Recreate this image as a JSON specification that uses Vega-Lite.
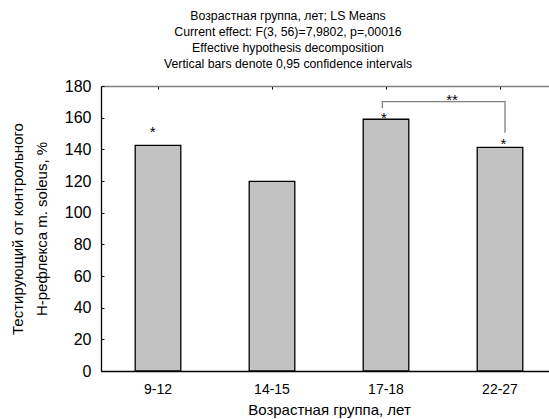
{
  "$schema": "https://vega.github.io/schema/vega-lite/v6.json",
  "width": 448,
  "height": 285,
  "autosize": {"type": "none"},
  "padding": {"left": 101, "top": 86, "right": 0, "bottom": 48},
  "background": "white",
  "config": {
    "font": "Liberation Sans",
    "view": {"stroke": null},
    "axis": {"grid": false, "labelFont": "Liberation Sans", "titleFont": "Liberation Sans", "labelColor": "black", "titleColor": "black", "titleFontWeight": "normal"}
  },
  "title": {
    "text": ["Возрастная группа, лет; LS Means", "Current effect: F(3, 56)=7,9802, p=,00016", "Effective hypothesis decomposition", "Vertical bars denote 0,95 confidence intervals"],
    "fontSize": 12.3,
    "fontWeight": "normal",
    "lineHeight": 16,
    "anchor": "middle",
    "frame": "group",
    "dx": -37,
    "offset": 8,
    "color": "black"
  },
  "resolve": {"scale": {"x": "independent"}},
  "layer": [
    {
      "data": {"values": [
        {"group": "9-12", "value": 142.5},
        {"group": "14-15", "value": 119.8},
        {"group": "17-18", "value": 159.0},
        {"group": "22-27", "value": 141.2}
      ]},
      "mark": {"type": "bar", "fill": "#c2c2c2", "stroke": "black", "strokeWidth": 1.3},
      "encoding": {
        "x": {"field": "group", "type": "nominal", "sort": null,
          "scale": {"range": [0, 456], "paddingInner": 0.6, "paddingOuter": 0.3},
          "axis": {"orient": "bottom", "title": "Возрастная группа, лет", "titleFontSize": 15, "titlePadding": 6, "labelFontSize": 14, "labelAngle": 0, "labelPadding": 14, "tickSize": -3, "tickColor": "black", "domainColor": "black", "domainWidth": 1.3}},
        "y": {"field": "value", "type": "quantitative",
          "scale": {"domain": [0, 180], "nice": false},
          "axis": {"values": [0, 20, 40, 60, 80, 100, 120, 140, 160, 180], "labelOverlap": false, "labelFlush": false, "title": ["Тестирующий от контрольного", "H-рефлекса m. soleus, %"], "titleFontSize": 15, "titleLineHeight": 24, "titlePadding": 15, "labelFontSize": 16, "labelPadding": 13, "tickSize": -3, "tickColor": "black", "domainColor": "black", "domainWidth": 1.3}}
      }
    },
    {
      "data": {"values": [
        {"pos": 0.454, "y": 147.7, "label": "*"},
        {"pos": 2.482, "y": 156.8, "label": "*"},
        {"pos": 3.529, "y": 140.0, "label": "*"},
        {"pos": 3.079, "y": 167.7, "label": "**"}
      ]},
      "mark": {"type": "text", "fontSize": 15, "baseline": "alphabetic", "align": "center", "fill": "black"},
      "encoding": {
        "x": {"field": "pos", "type": "quantitative", "scale": {"domain": [0, 4], "range": [0, 456], "nice": false, "zero": true},
          "axis": {"orient": "top", "values": [0.5, 1.5, 2.5, 3.5], "labels": false, "title": null, "tickSize": -3, "tickColor": "black", "domainColor": "#808080", "domainWidth": 1.3}},
        "y": {"field": "y", "type": "quantitative", "scale": {"domain": [0, 180], "nice": false},
          "axis": {"values": [0, 20, 40, 60, 80, 100, 120, 140, 160, 180], "labelOverlap": false, "labelFlush": false, "title": ["Тестирующий от контрольного", "H-рефлекса m. soleus, %"], "titleFontSize": 15, "titleLineHeight": 24, "titlePadding": 15, "labelFontSize": 16, "labelPadding": 13, "tickSize": -3, "tickColor": "black", "domainColor": "black", "domainWidth": 1.3}},
        "text": {"field": "label"}
      }
    },
    {
      "data": {"values": [
        {"px": 2.468, "py": 165.9, "k": 1},
        {"px": 2.468, "py": 170.1, "k": 2},
        {"px": 3.544, "py": 170.1, "k": 3},
        {"px": 3.544, "py": 150.5, "k": 4}
      ]},
      "mark": {"type": "line", "color": "#808080", "strokeWidth": 1.3},
      "encoding": {
        "x": {"field": "px", "type": "quantitative", "scale": {"domain": [0, 4], "range": [0, 456], "nice": false}, "axis": null},
        "y": {"field": "py", "type": "quantitative", "scale": {"domain": [0, 180], "nice": false},
          "axis": {"values": [0, 20, 40, 60, 80, 100, 120, 140, 160, 180], "labelOverlap": false, "labelFlush": false, "title": ["Тестирующий от контрольного", "H-рефлекса m. soleus, %"], "titleFontSize": 15, "titleLineHeight": 24, "titlePadding": 15, "labelFontSize": 16, "labelPadding": 13, "tickSize": -3, "tickColor": "black", "domainColor": "black", "domainWidth": 1.3}},
        "order": {"field": "k"}
      }
    }
  ]
}
